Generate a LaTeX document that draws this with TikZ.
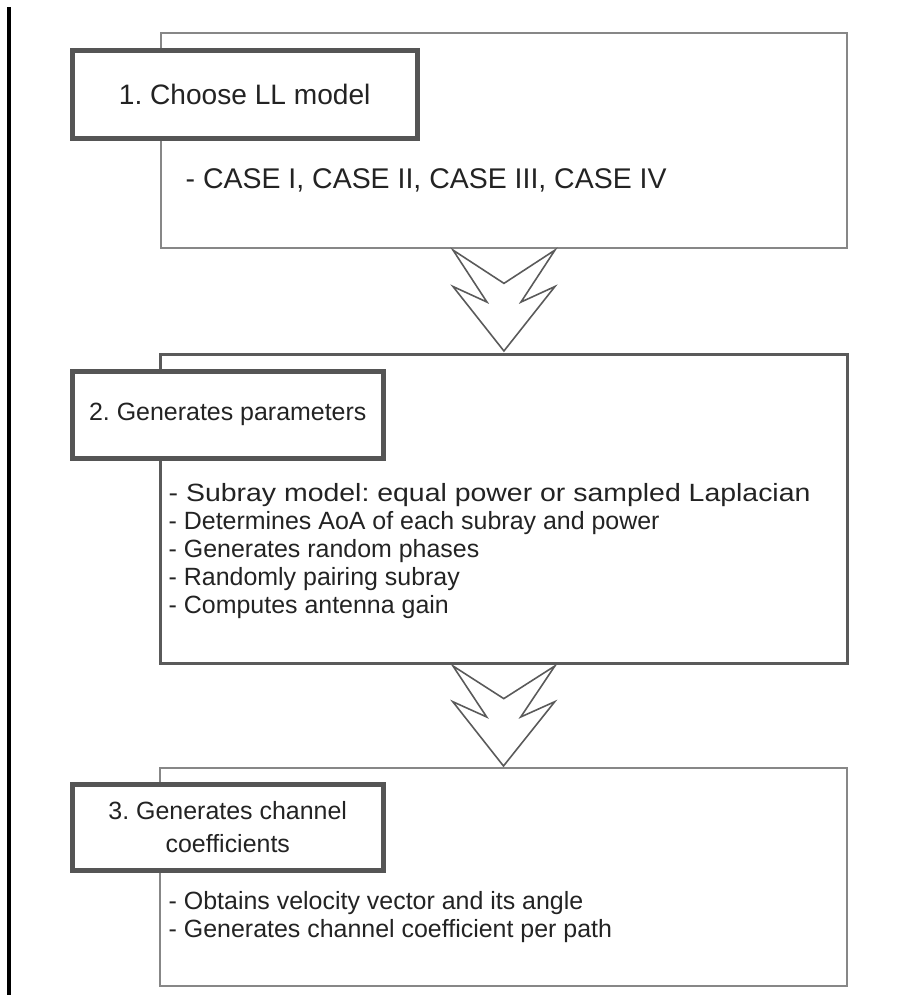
\documentclass[tikz,border=0pt]{standalone}
\usepackage{fontspec}
\setmainfont{Liberation Sans}
\usetikzlibrary{calc}
\definecolor{framegray}{RGB}{135,135,135}
\definecolor{darkframe}{RGB}{90,90,90}
\definecolor{titlegray}{RGB}{85,85,85}
\definecolor{inkgray}{RGB}{35,35,35}
\frenchspacing

\begin{document}
\begin{tikzpicture}[x=0.02cm, y=-0.02cm, thick]
\tikzset{outerbox/.style={draw=framegray, line width=1.2pt, fill=white,
minimum width=13.74cm, anchor=north west, inner sep=0pt},
titlebox/.style={draw=titlegray, line width=2.6pt, fill=white,
minimum width=6.22cm, anchor=north west, align=center, text=inkgray,
font=\fontsize{14.2}{18.7}\selectfont},
itemlist/.style={anchor=west, align=left, inner sep=0pt, text=inkgray,
font=\fontsize{14.2}{15.9}\selectfont},
arrowline/.style={draw=darkframe, line width=0.9pt, fill=white, line join=miter},
}

\useasboundingbox[fill=white] (0,0) rectangle (920,995);
\draw[line width=2.8pt] (9,7) -- (9,995);

\node[outerbox, minimum width=13.72cm, minimum height=4.3cm] (b1) at (160,32) {};
\node[titlebox, minimum width=6.9cm, minimum height=1.76cm,
font=\fontsize{16}{19}\selectfont] (t1) at (70,48) {1. Choose LL model};
\node[itemlist, font=\fontsize{16.2}{18}\selectfont] (l1) at (185,180)
{- CASE I, CASE II, CASE III, CASE IV};

\node[outerbox, draw=darkframe, line width=1.7pt, minimum height=6.18cm] (b2) at (159,353) {};
\node[titlebox, minimum height=1.74cm] (t2) at (70,369) {2. Generates parameters};
\node[itemlist] (l2) at (168,551)
{\scalebox{1.14}[1]{- Subray model: equal power or sampled Laplacian}\\
- Determines AoA of each subray and power\\
- Generates random phases\\
- Randomly pairing subray\\
- Computes antenna gain};

\node[outerbox, minimum height=4.36cm] (b3) at (159,767) {};
\node[titlebox, minimum height=1.72cm] (t3) at (70,782) {3. Generates channel\\coefficients};
\node[itemlist] (l3) at (168,917.5)
{- Obtains velocity vector and its angle\\
- Generates channel coefficient per path};

\draw[arrowline] ($(b1.south)+(-51,1)$) -- ($(b1.south)!0.33!(b2.north)$)
-- ($(b1.south)+(51,1)$) -- ($(b1.south)!0.51!(b2.north)+(17,0)$)
-- ($(b1.south)!0.36!(b2.north)+(51,0)$) -- ($(b2.north)+(0,-2)$)
-- ($(b1.south)!0.36!(b2.north)+(-51,0)$) -- ($(b1.south)!0.51!(b2.north)+(-17,0)$) -- cycle;
\draw[arrowline] ($(b2.south)+(-51,1)$) -- ($(b2.south)!0.33!(b3.north)$)
-- ($(b2.south)+(51,1)$) -- ($(b2.south)!0.51!(b3.north)+(17,0)$)
-- ($(b2.south)!0.36!(b3.north)+(51,0)$) -- ($(b3.north)+(0,-1)$)
-- ($(b2.south)!0.36!(b3.north)+(-51,0)$) -- ($(b2.south)!0.51!(b3.north)+(-17,0)$) -- cycle;
\end{tikzpicture}
\end{document}
